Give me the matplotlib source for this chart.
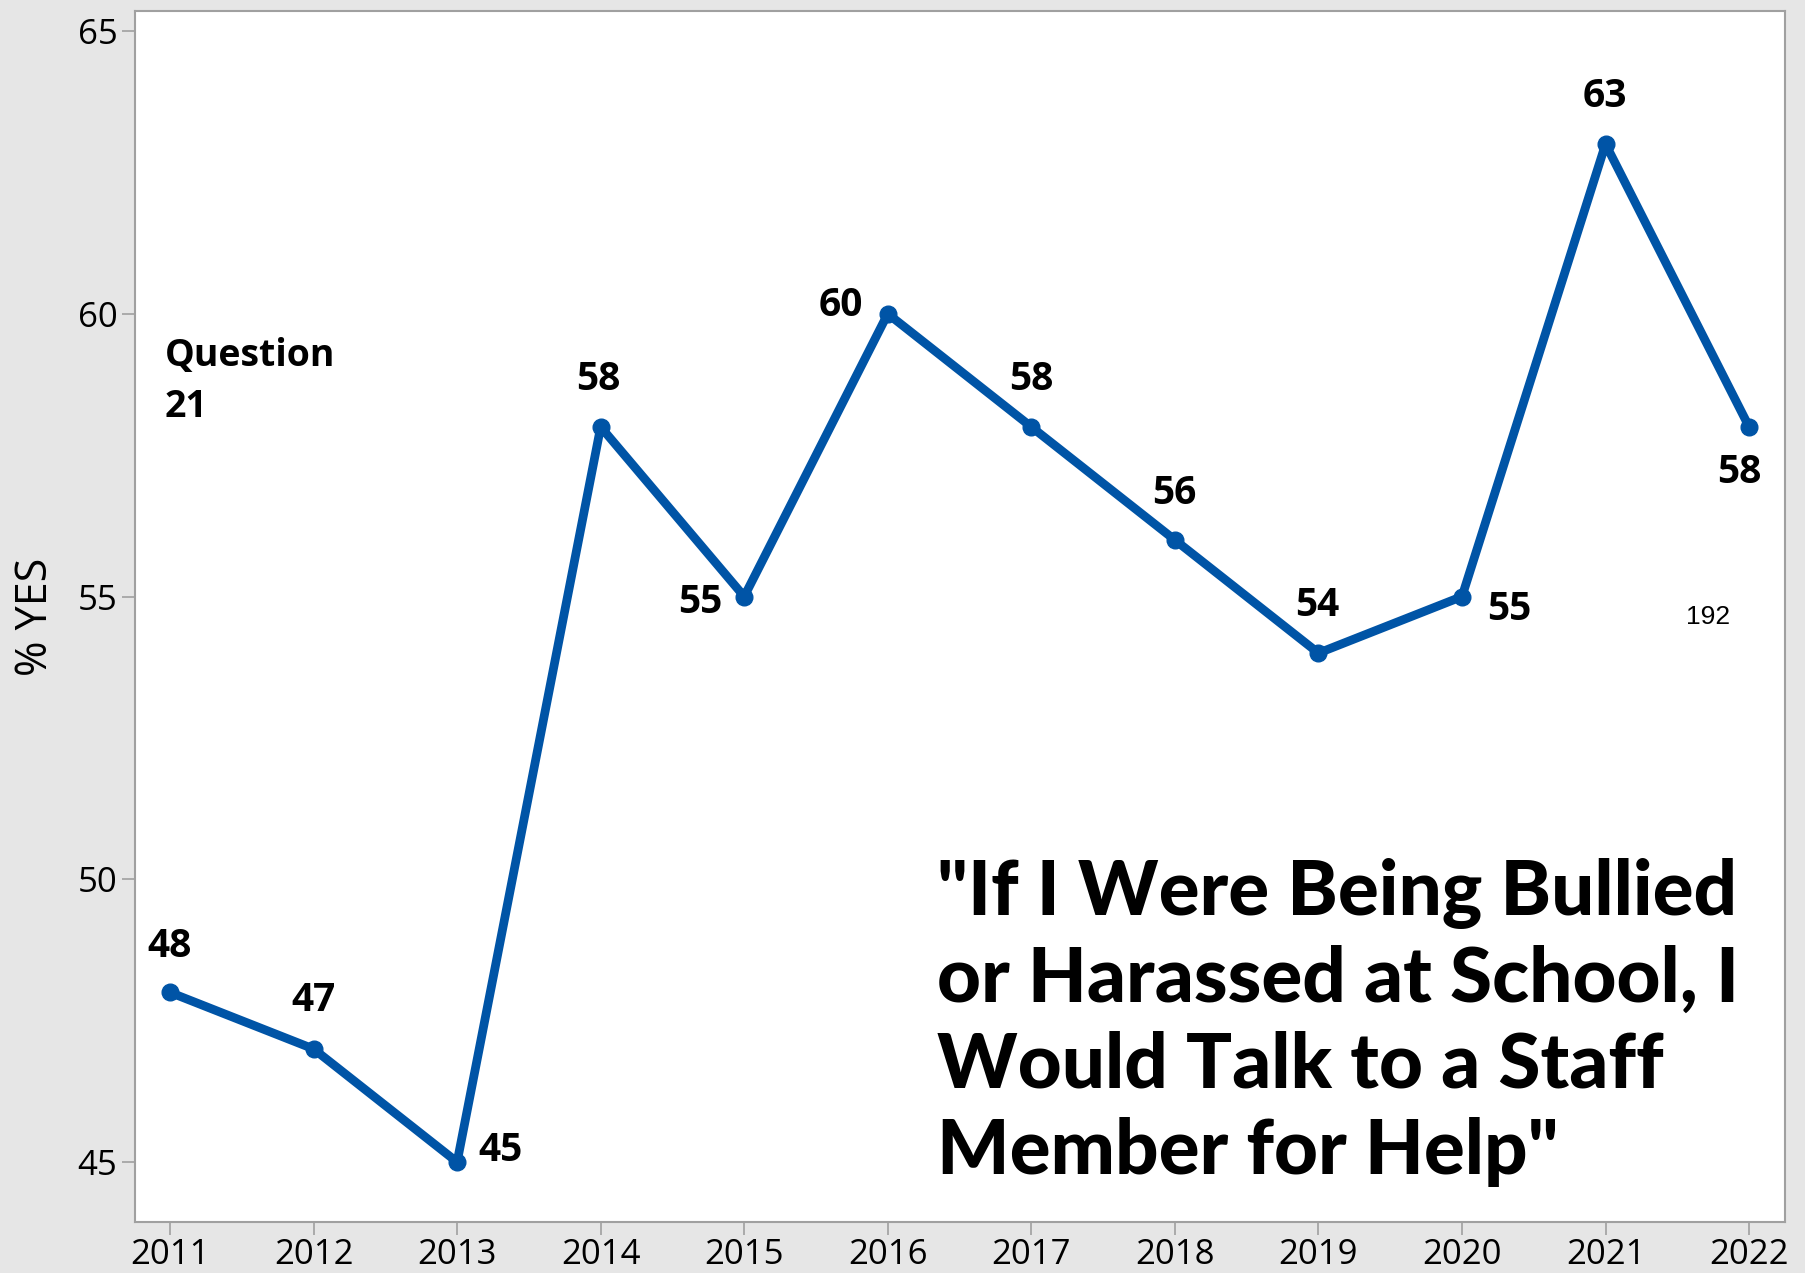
import matplotlib
matplotlib.use("Agg")
import matplotlib.pyplot as plt

# Data
years = [2011, 2012, 2013, 2014, 2015, 2016, 2017, 2018, 2019, 2020, 2021, 2022]
pct_yes = [48, 47, 45, 58, 55, 60, 58, 56, 54, 55, 63, 58]
y_ticks = [45, 50, 55, 60, 65]

# Label offsets (pixels) from each point
label_dx = [0, 0, 43, -2, -44, -47, 0, -1, -1, 47, -1, -10]
label_dy = [46, 48, 12, 47, -6, 8, 47, 46, 48, -13, 48, -46]

title_text = '"If I Were Being Bullied\nor Harassed at School, I\nWould Talk to a Staff\nMember for Help"'

plt.rcParams['font.family'] = ['Open Sans', 'DejaVu Sans']

line_color = '#0054A6'
grey = '#A0A0A0'

fig = plt.figure(figsize=(18.05, 12.73), dpi=100, facecolor='#E6E6E6')
ax = fig.add_axes([134.7/1805, 1-1222/1273, (1785-134.7)/1805, (1222-11)/1273])
ax.set_facecolor('white')

ax.plot(years, pct_yes, color=line_color, lw=6.3, marker='o', ms=12,
        markerfacecolor=line_color, markeredgecolor=line_color, solid_joinstyle='round')

for x, y, dx, dy in zip(years, pct_yes, label_dx, label_dy):
    ax.annotate(str(y), (x, y), xytext=(dx, dy), textcoords='offset pixels',
                ha='center', va='center', fontsize=28, fontweight='bold', color='black')

ax.set_xlim(2010.754, 2022.25)
ax.set_ylim(43.94, 65.354)
ax.set_xticks(years)
ax.set_yticks(y_ticks)
ax.tick_params(axis='both', length=9.5, width=1.2, color=grey, labelsize=25, pad=3)
ax.tick_params(axis='x', pad=2)

for s in ax.spines.values():
    s.set_color(grey)
    s.set_linewidth(1.5)

ax.set_ylabel('% YES', fontsize=31, labelpad=14)

ax.text(165/1805, 1-337/1273, 'Question\n21', transform=fig.transFigure,
        fontsize=27, fontweight='bold', va='top', ha='left', linespacing=1.45)

fig.text(937/1805, 1-858/1273, title_text, fontsize=55, fontweight='black',
         family=['Lato', 'DejaVu Sans'], va='top', ha='left', linespacing=1.28)

fig.text(1708/1805, 1-617/1273, '192', fontsize=19, family='Liberation Sans',
         ha='center', va='center')

fig.savefig('out.png', dpi=100, facecolor=fig.get_facecolor())
